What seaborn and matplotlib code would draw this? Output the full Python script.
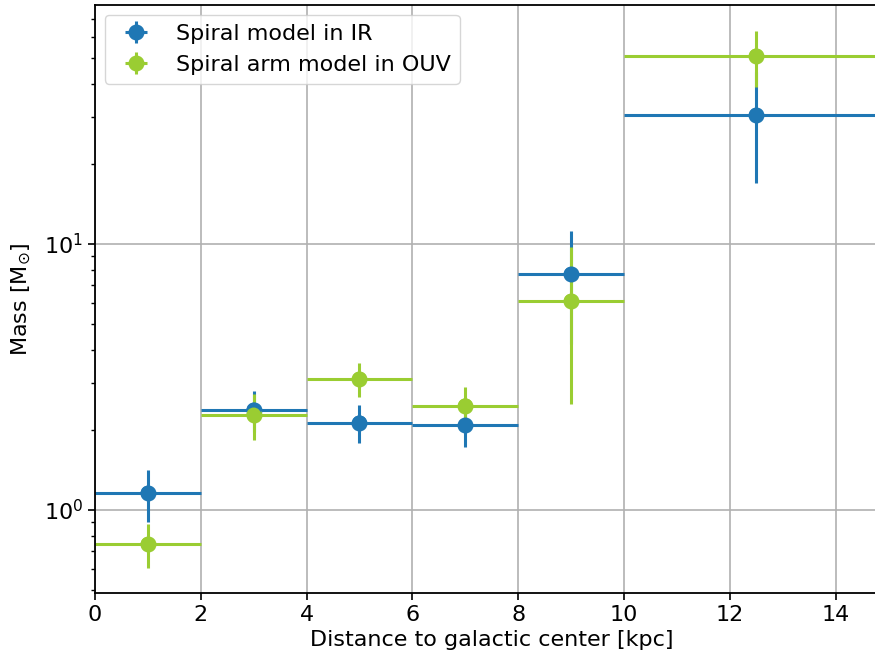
import matplotlib
matplotlib.use("Agg")
import matplotlib.pyplot as plt
import seaborn as sns
import pandas as pd

# Radial bins (kpc): centres and half-widths
ir_r = [1, 3, 5, 7, 9, 12.5]
ir_dr = [1, 1, 1, 1, 1, 2.5]
ir_mass = [1.16, 2.38, 2.13, 2.08, 7.7, 30.5]
ir_err = [0.26, 0.42, 0.35, 0.36, 3.5, 13.6]

ouv_r = [1, 3, 5, 7, 9, 12.5]
ouv_dr = [1, 1, 1, 1, 1, 2.5]
ouv_mass = [0.745, 2.28, 3.11, 2.47, 6.1, 50.9]
ouv_err = [0.14, 0.45, 0.45, 0.43, 3.6, 12.0]

labels = ["Spiral model in IR", "Spiral arm model in OUV"]
colors = ["#1f77b4", "#9acd32"]

sns.set_style("ticks")
plt.rcParams["font.family"] = ["DejaVu Sans"]
plt.rcParams["font.size"] = 16
for key in ("text.color", "axes.labelcolor", "xtick.color", "ytick.color"):
    plt.rcParams[key] = "black"

fig = plt.figure(figsize=(8.75, 6.68), dpi=100)
ax = fig.add_axes([95 / 875, 75 / 668, (15 * 52.9) / 875, 588 / 668])

series = [
    (ir_r, ir_dr, ir_mass, ir_err),
    (ouv_r, ouv_dr, ouv_mass, ouv_err),
]
for (r, dr, m, e), lab, col in zip(series, labels, colors):
    ax.errorbar(r, m, xerr=dr, yerr=e, fmt="o", color=col, ms=10.5,
                elinewidth=2.2, capsize=0, label=lab)
    df = pd.DataFrame({"r": r, "m": m})
    sns.scatterplot(data=df, x="r", y="m", ax=ax, color=col, s=110,
                    edgecolor="none", legend=False, zorder=3)

ax.set_yscale("log")
ax.set_xlim(0, 15)
ax.set_ylim(0.488, 79)
ax.set_xticks([0, 2, 4, 6, 8, 10, 12, 14])
ax.grid(True, which="major", color="#b0b0b0", linewidth=1.2)
ax.set_axisbelow(True)
ax.tick_params(labelsize=16, width=1.2, length=5, colors="black")
ax.tick_params(which="minor", width=1.0, length=3, left=True)
for s in ax.spines.values():
    s.set_linewidth(1.3)
    s.set_color("black")

ax.set_xlabel("Distance to galactic center [kpc]", fontsize=16, color="black")
ax.set_ylabel(r"Mass [M$_{\odot}$]", fontsize=16, color="black", labelpad=8)
ax.legend(loc="upper left", fontsize=16, borderaxespad=0.45, handletextpad=0.8)

fig.savefig("out.png", dpi=100)
